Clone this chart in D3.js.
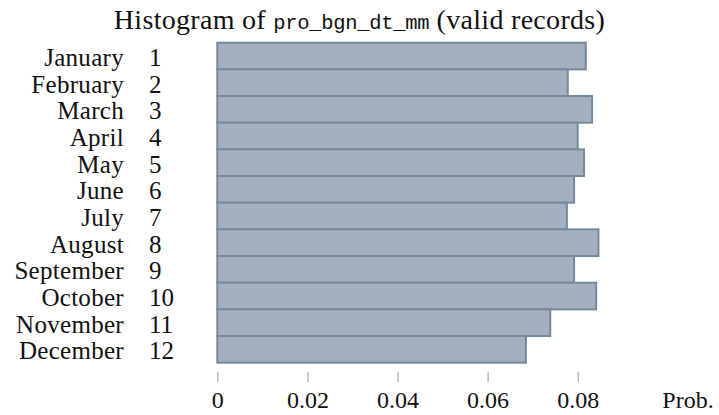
<!DOCTYPE html>
<html><head><meta charset="utf-8">
<script src="https://cdn.jsdelivr.net/npm/d3@7"></script>
<style>
body{margin:0;background:#fff;}
text{font-family:"Liberation Serif","Times New Roman",serif;fill:#111;}
</style></head>
<body><svg id="c" width="719" height="415"></svg>
<script>
const months = ["January","February","March","April","May","June","July","August","September","October","November","December"];
const codes = ["1","2","3","4","5","6","7","8","9","10","11","12"];
const probs = [0.0818,0.0778,0.0832,0.0800,0.0814,0.0792,0.0776,0.0846,0.0792,0.0841,0.0739,0.0685];
const ticks = [0,0.02,0.04,0.06,0.08];
const tickLabels = ["0","0.02","0.04","0.06","0.08"];

const svg = d3.select("#c");
const x = d3.scaleLinear().domain([0,0.08]).range([217.3,577.7]);
const y = d3.scaleBand().domain(codes).range([42.7,362.7]).padding(0);

svg.append("text").attr("x",359.5).attr("y",29).attr("text-anchor","middle").attr("font-size",28)
  .attr("letter-spacing","0.3px")
  .call(t=>{
    t.append("tspan").text("Histogram of ");
    t.append("tspan").attr("font-family","'Liberation Mono','Courier New',monospace").attr("font-size",20.5).attr("letter-spacing","-0.3px").text("pro_bgn_dt_mm");
    t.append("tspan").attr("letter-spacing","0.3px").text(" (valid records)");
  });

svg.append("g").selectAll("rect").data(probs).join("rect")
  .attr("x",x(0)).attr("y",(d,i)=>y(codes[i]))
  .attr("width",d=>x(d)-x(0)).attr("height",y.bandwidth())
  .attr("fill","#a4b0bd").attr("stroke","#7489a0").attr("stroke-width",2);

const lab = svg.append("g");
lab.selectAll("text.m").data(months).join("text").attr("class","m")
  .attr("x",124).attr("y",(d,i)=>y(codes[i])+y.bandwidth()/2+10)
  .attr("text-anchor","end").attr("font-size",25).attr("letter-spacing","0.3px").text(d=>d);
lab.selectAll("text.c").data(codes).join("text").attr("class","c")
  .attr("x",149).attr("y",(d,i)=>y(codes[i])+y.bandwidth()/2+10)
  .attr("font-size",25).text(d=>d);

const axis = d3.axisBottom(x).tickValues(ticks).tickFormat((d,i)=>tickLabels[i]).tickSize(10.3).tickPadding(0);
const ag = svg.append("g").attr("transform","translate(0,371.7)").call(axis);
ag.select(".domain").remove();
ag.selectAll("line").attr("stroke","#aaaaaa").attr("stroke-width",1.2);
ag.selectAll("text").attr("font-size",24).attr("font-family","'Liberation Serif',serif").attr("fill","#111")
  .attr("dy",null).attr("y",36.6);

svg.append("text").attr("x",688).attr("y",408.3).attr("text-anchor","middle").attr("font-size",24).text("Prob.");
</script></body></html>
